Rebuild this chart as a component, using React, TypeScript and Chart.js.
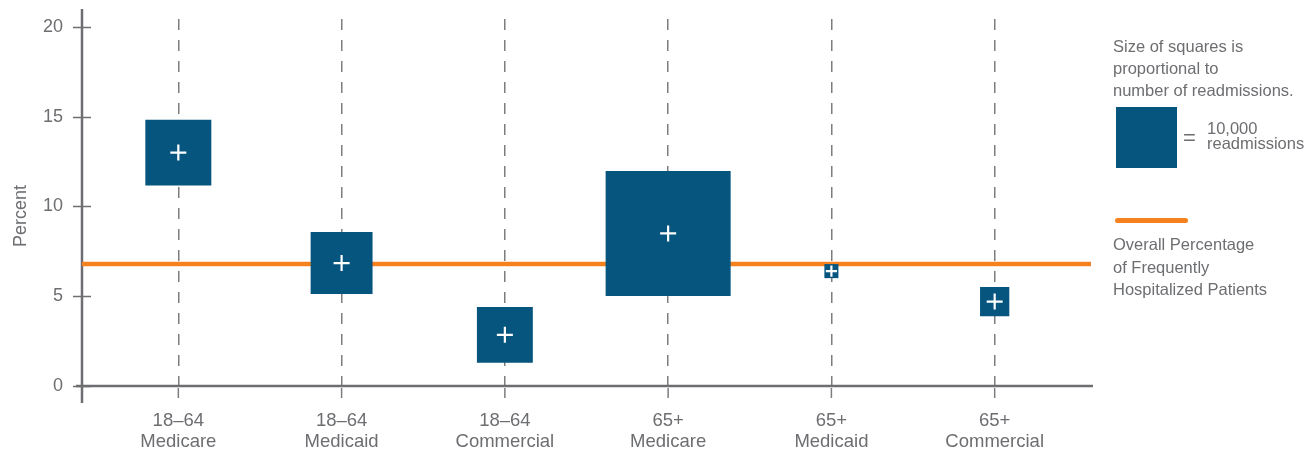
import React, { useEffect, useRef } from "react";
import { Chart, registerables } from "chart.js";

Chart.register(...registerables);

// ---- data ----
const ageGroups = ["18–64", "18–64", "18–64", "65+", "65+", "65+"];
const payers = ["Medicare", "Medicaid", "Commercial", "Medicare", "Medicaid", "Commercial"];
const percents = [13.0, 6.85, 2.85, 8.5, 6.4, 4.7];
const readmissions = [11700, 10300, 8400, 42000, 530, 2300];
const overallPercent = 6.8;
const yTickValues = [0, 5, 10, 15, 20];
const legendReadmissions = 10000;

// ---- styles ----
const FONT = '"Liberation Sans", Arial, sans-serif';
const TEXT = "#6d6e71";
const AXIS = "#6d6e71";
const GRID = "#7d7d7d";
const SQUARE = "#06557f";
const ORANGE = "#f5821f";
const LEGEND_SIDE = 61; // px side of the 10,000-readmissions square
const X_MIN = -0.59;
const X_MAX = 5.59;
const Y_MIN = 0;
const Y_MAX = 21;

const sideFor = (n: number) => LEGEND_SIDE * Math.sqrt(n / legendReadmissions);

const axisPlugin = {
  id: "axisLines",
  beforeDatasetsDraw(chart: any) {
    const { ctx, chartArea: ca, scales } = chart;
    const x = scales.x;
    const y = scales.y;
    const y0 = y.getPixelForValue(0);
    ctx.save();
    ctx.strokeStyle = AXIS;
    ctx.lineWidth = 2.5;
    ctx.beginPath();
    ctx.moveTo(ca.left, ca.top);
    ctx.lineTo(ca.left, y0 + 17);
    ctx.stroke();
    ctx.beginPath();
    ctx.moveTo(ca.left - 6, y0);
    ctx.lineTo(ca.right + 2, y0);
    ctx.stroke();
    ctx.lineWidth = 1.5;
    y.ticks.forEach((t: any) => {
      const py = Math.round(y.getPixelForValue(t.value)) + 0.5;
      ctx.beginPath();
      ctx.moveTo(ca.left - 9, py);
      ctx.lineTo(ca.left + 9, py);
      ctx.stroke();
    });
    ctx.strokeStyle = GRID;
    x.ticks.forEach((t: any) => {
      const px = x.getPixelForValue(t.value);
      ctx.beginPath();
      ctx.moveTo(px, y0 + 2);
      ctx.lineTo(px, y0 + 12);
      ctx.stroke();
    });
    ctx.restore();
  },
};

export default function App() {
  const canvasRef = useRef<HTMLCanvasElement | null>(null);

  useEffect(() => {
    if (!canvasRef.current) return;
    const pts = percents.map((p, i) => ({ x: i, y: p }));
    const chart = new Chart(canvasRef.current, {
      type: "scatter",
      data: {
        datasets: [
          {
            label: "center",
            data: pts,
            pointStyle: "cross",
            pointRadius: (c: any) => Math.min(8, sideFor(readmissions[c.dataIndex]) * 0.4),
            pointBorderColor: "#ffffff",
            pointBorderWidth: 2.2,
            order: 0,
          } as any,
          {
            label: "readmissions",
            data: pts,
            pointStyle: "rect",
            pointRadius: (c: any) => sideFor(readmissions[c.dataIndex]) / Math.SQRT2,
            backgroundColor: SQUARE,
            pointBackgroundColor: SQUARE,
            pointBorderWidth: 0,
            borderWidth: 0,
            order: 1,
          } as any,
          {
            type: "line",
            label: "Overall Percentage of Frequently Hospitalized Patients",
            data: [
              { x: X_MIN, y: overallPercent },
              { x: X_MAX, y: overallPercent },
            ],
            borderColor: ORANGE,
            borderWidth: 4.5,
            pointRadius: 0,
            fill: false,
            order: 2,
          } as any,
        ],
      },
      options: {
        animation: false,
        responsive: false,
        devicePixelRatio: 1,
        events: [],
        layout: { autoPadding: false, padding: { left: 0, right: 215, top: 9, bottom: 0 } },
        plugins: { legend: { display: false }, tooltip: { enabled: false } },
        scales: {
          x: {
            type: "linear",
            min: X_MIN,
            max: X_MAX,
            afterBuildTicks: (s: any) => {
              s.ticks = payers.map((_, i) => ({ value: i }));
            },
            afterFit: (s: any) => {
              s.height = 66;
              s.paddingLeft = 0;
              s.paddingRight = 0;
            },
            ticks: {
              callback: (v: any) => [ageGroups[v], payers[v]],
              font: { family: FONT, size: 18.5, lineHeight: 1.16 },
              color: TEXT,
              padding: 24,
              maxRotation: 0,
              autoSkip: false,
            },
            grid: {
              display: true,
              drawOnChartArea: true,
              drawTicks: false,
              color: GRID,
              lineWidth: 1.5,
            },
            border: { display: false, dash: [11, 10], dashOffset: 11 },
          },
          y: {
            type: "linear",
            min: Y_MIN,
            max: Y_MAX,
            afterBuildTicks: (s: any) => {
              s.ticks = yTickValues.map((v) => ({ value: v }));
            },
            afterFit: (s: any) => {
              s.width = 82;
              s.paddingTop = 0;
              s.paddingBottom = 0;
            },
            ticks: {
              font: { family: FONT, size: 18 },
              color: TEXT,
              padding: 19,
            },
            grid: { display: false, drawTicks: false },
            border: { display: false },
          },
        },
      } as any,
      plugins: [axisPlugin],
    });
    return () => chart.destroy();
  }, []);

  const textBase: React.CSSProperties = {
    position: "absolute",
    fontFamily: FONT,
    color: TEXT,
    whiteSpace: "nowrap",
  };

  return (
    <div
      style={{
        position: "fixed",
        left: 0,
        top: 0,
        width: 1306,
        height: 452,
        background: "#ffffff",
        overflow: "hidden",
      }}
    >
      <canvas ref={canvasRef} width={1306} height={452} style={{ display: "block" }} />
      <div
        style={{
          ...textBase,
          left: 20,
          top: 216,
          fontSize: 18,
          lineHeight: 1,
          transform: "translate(-50%, -50%) rotate(-90deg)",
        }}
      >
        Percent
      </div>
      <div style={{ ...textBase, left: 1113, top: 35, fontSize: 16.5, lineHeight: "22px" }}>
        Size of squares is
        <br />
        proportional to
        <br />
        number of readmissions.
      </div>
      <div
        style={{
          position: "absolute",
          left: 1116,
          top: 107,
          width: LEGEND_SIDE,
          height: LEGEND_SIDE,
          background: SQUARE,
        }}
      />
      <div style={{ ...textBase, left: 1183, top: 127, fontSize: 22, lineHeight: "22px" }}>=</div>
      <div style={{ ...textBase, left: 1207, top: 121, fontSize: 16.5, lineHeight: "15px" }}>
        10,000
        <br />
        readmissions
      </div>
      <div
        style={{
          position: "absolute",
          left: 1115,
          top: 218,
          width: 73,
          height: 4.5,
          borderRadius: 3,
          background: ORANGE,
        }}
      />
      <div style={{ ...textBase, left: 1113, top: 233, fontSize: 16.5, lineHeight: "22.5px" }}>
        Overall Percentage
        <br />
        of Frequently
        <br />
        Hospitalized Patients
      </div>
    </div>
  );
}
